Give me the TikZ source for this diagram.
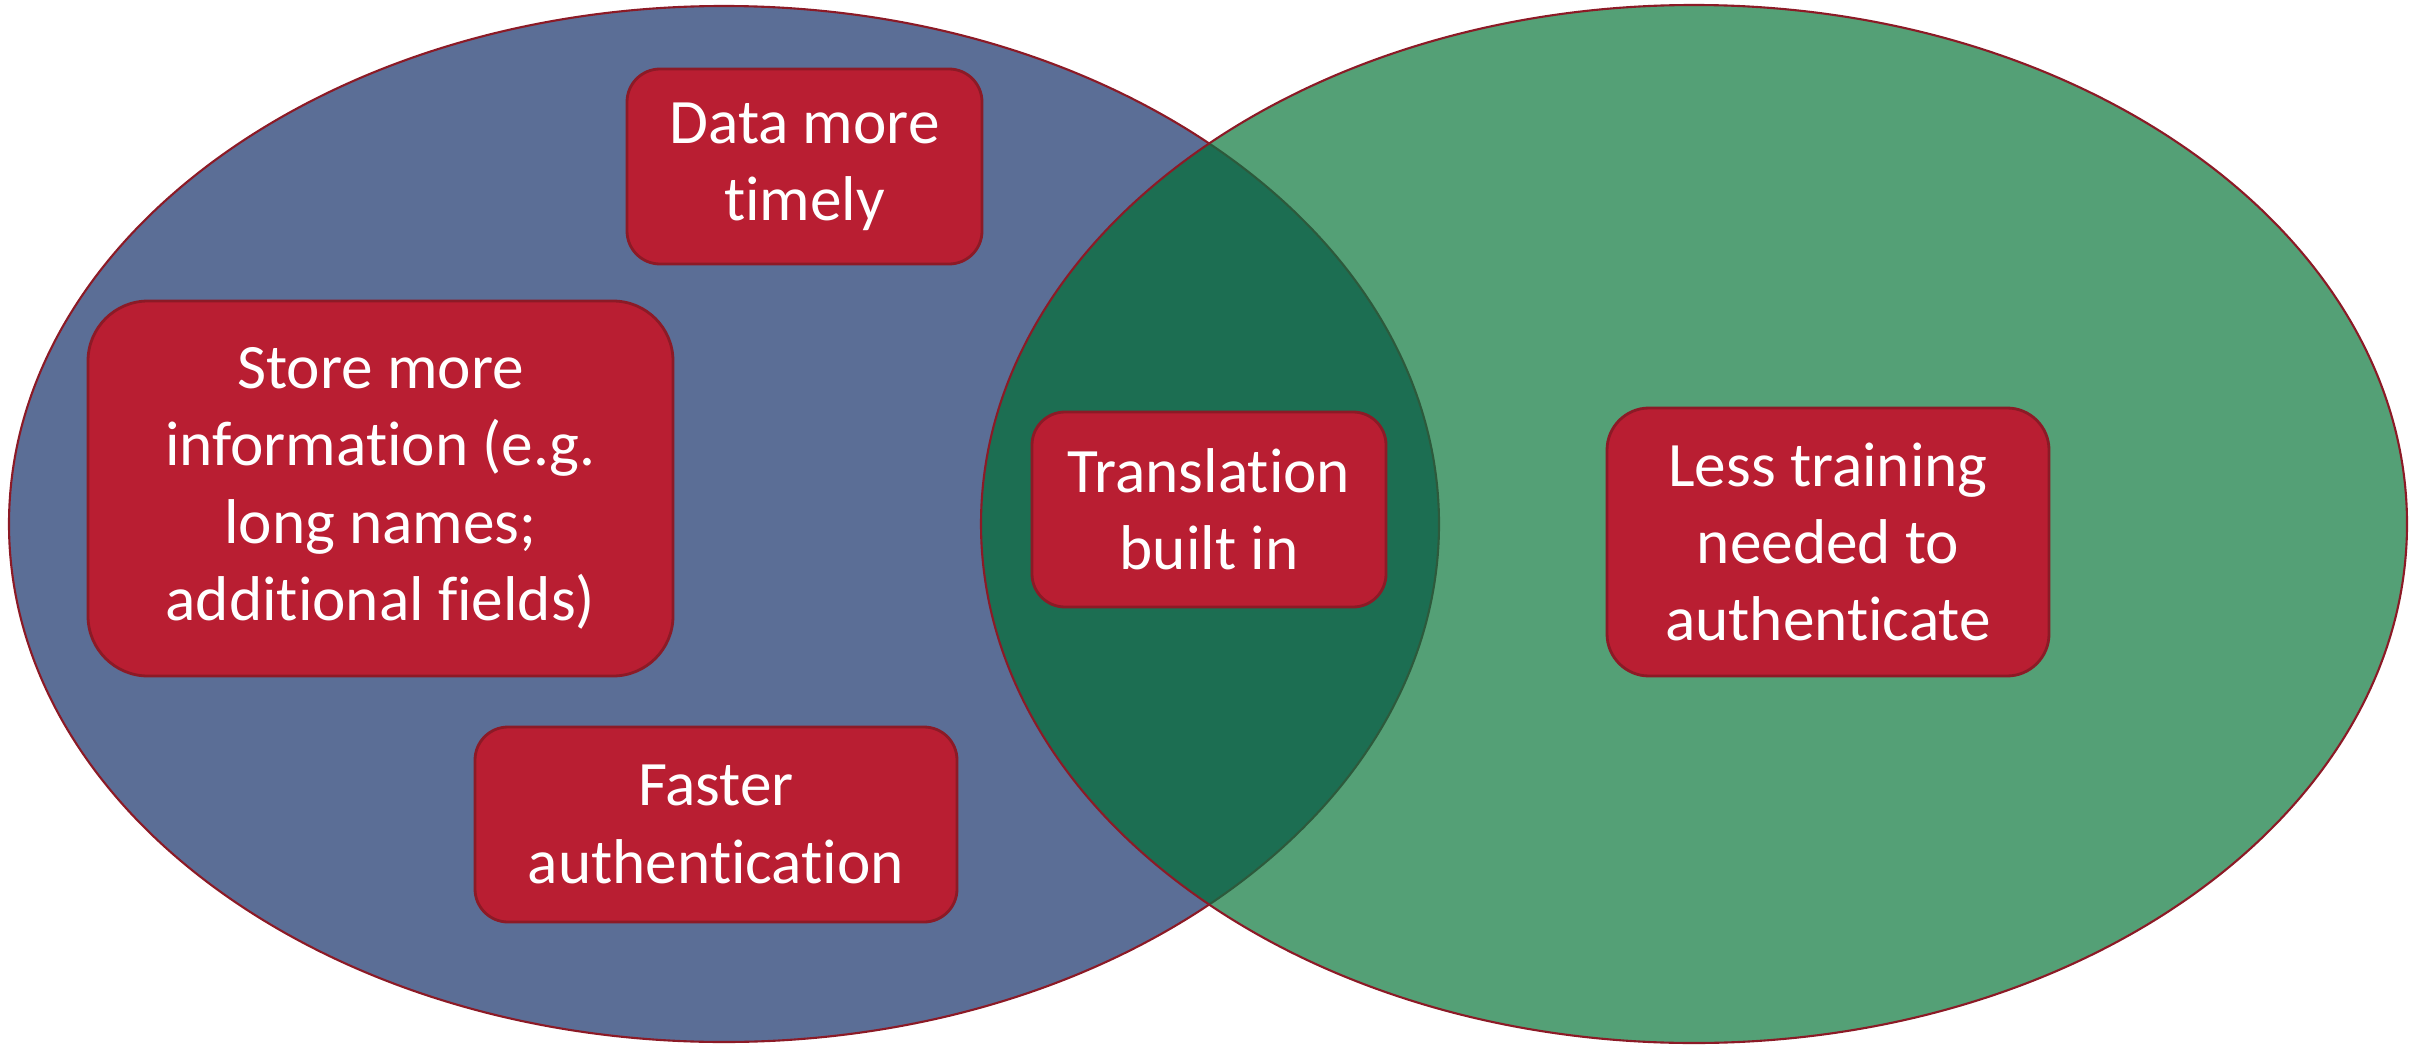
\documentclass[tikz,border=0pt]{standalone}
\usepackage{fontspec}
\setmainfont[Ligatures={NoCommon}]{Carlito}
\usepackage{xcolor}
\definecolor{setblue}{RGB}{91,110,150}
\definecolor{setgreen}{RGB}{84,160,118}
\definecolor{setboth}{RGB}{28,110,82}
\definecolor{boxred}{RGB}{185,30,50}
\definecolor{edgered}{RGB}{140,26,38}
\definecolor{innerline}{RGB}{45,90,60}
\tikzset{
    item/.style={draw=edgered, line width=0.8pt, fill=boxred, text=white, align=center,
        inner sep=0pt, font=\fontsize{18}{22}\selectfont},
    rim/.style={draw=edgered, line width=0.6pt}
}

\begin{document}
\begin{tikzpicture}
    \useasboundingbox (0,0) rectangle (24.25,10.44);

    % Left set
    \fill[setblue] (7.24,5.20) ellipse (7.15 and 5.18);
    \draw[rim] (7.24,5.20) ellipse (7.15 and 5.18);
    % Right set
    \fill[setgreen] (16.94,5.20) ellipse (7.13 and 5.19);

    % Overlap
    \begin{scope}
        \clip (7.24,5.20) ellipse (7.15 and 5.18);
        \fill[setboth] (16.94,5.20) ellipse (7.13 and 5.19);
    \end{scope}
    \begin{scope}
        \clip (16.94,5.20) ellipse (7.13 and 5.19);
        \draw[innerline, line width=0.6pt] (7.24,5.20) ellipse (7.15 and 5.18);
    \end{scope}
    \draw[rim] (16.94,5.20) ellipse (7.13 and 5.19);

    % Items
    \node[item, minimum width=3.55cm, minimum height=1.95cm, rounded corners=0.33cm] (timely) at (8.045,8.775) {Data more\\timely};
    \node[item, minimum width=5.85cm, minimum height=3.75cm, rounded corners=0.6cm] (store) at (3.805,5.555) {Store more\\information (e.g.\\long names;\\additional fields)};
    \node[item, minimum width=4.82cm, minimum height=1.95cm, rounded corners=0.33cm] (faster) at (7.16,2.195) {Faster\\authentication};
    \node[item, minimum width=3.54cm, minimum height=1.95cm, rounded corners=0.33cm] (transl) at (12.09,5.345) {Translation\\built in};
    \node[item, minimum width=4.42cm, minimum height=2.68cm, rounded corners=0.42cm] (training) at (18.28,5.02) {Less training\\needed to\\authenticate};
\end{tikzpicture}
\end{document}
